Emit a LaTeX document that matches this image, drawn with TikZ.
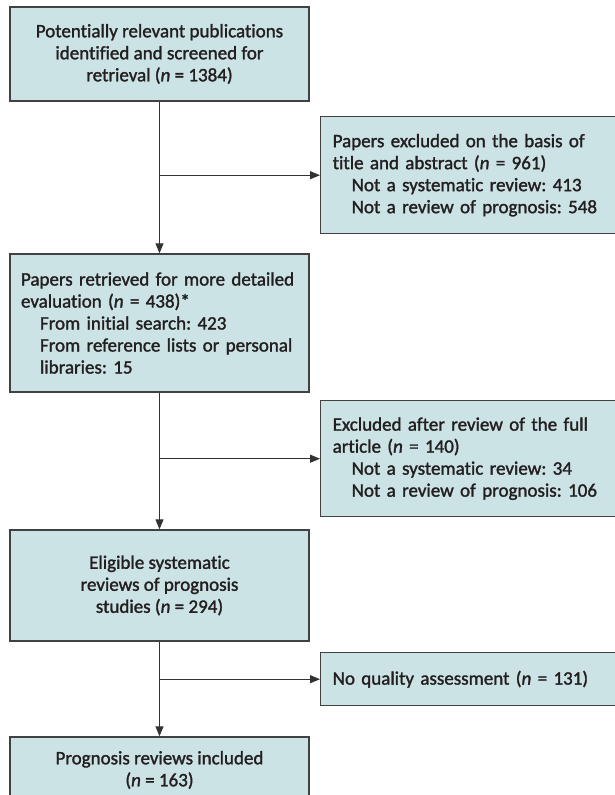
\documentclass[tikz,border=0pt]{standalone}
\usepackage{fontspec}
\setmainfont{Carlito}[Ligatures={NoCommon}, FakeBold=1.5]
\usetikzlibrary{arrows.meta}
\definecolor{boxfill}{RGB}{204,227,230}
\definecolor{boxline}{RGB}{65,65,65}
\definecolor{txtc}{RGB}{35,31,32}
\definecolor{linec}{RGB}{50,50,50}
\tikzset{
  fbox/.style={draw=boxline, fill=boxfill, line width=1.4pt, text=txtc,
    font=\fontsize{19}{22}\selectfont\frenchspacing, inner sep=0pt},
  cbox/.style={fbox, minimum width=299pt, align=center},
  lbox/.style={fbox, minimum width=299pt, text width=277pt, inner xsep=11pt, align=left},
  rbox/.style={fbox, anchor=north west, minimum width=310pt, text width=286pt, inner xsep=12pt, align=left},
  conn/.style={draw=linec, line width=1.2pt, -{Triangle[length=10pt,width=8pt]}}
}
\newcommand{\ind}{\hspace*{19pt}}
\begin{document}
\begin{tikzpicture}[x=1pt,y=-1pt]
\useasboundingbox (0,0) rectangle (615,795);
\node[cbox, minimum height=94pt] (b1) at (159.5,54)
  {Potentially relevant publications\\identified and screened for\\retrieval (\textit{n} = 1384)};
\node[rbox, minimum height=117pt] (b2) at (320,116)
  {Papers excluded on the basis of\\title and abstract (\textit{n} = 961)\\\ind Not a systematic review: 413\\\ind Not a review of prognosis: 548};
\node[lbox, minimum height=138pt] (b3) at (159.5,323)
  {Papers retrieved for more detailed\\evaluation (\textit{n} = 438)*\\\ind From initial search: 423\\\ind From reference lists or personal\\\ind libraries: 15};
\node[rbox, minimum height=116pt] (b4) at (320,400)
  {Excluded after review of the full\\article (\textit{n} = 140)\\\ind Not a systematic review: 34\\\ind Not a review of prognosis: 106};
\node[cbox, minimum height=111pt] (b5) at (159.5,585.5)
  {Eligible systematic\\reviews of prognosis\\studies (\textit{n} = 294)};
\node[rbox, minimum height=53pt] (b6) at (320,652)
  {No quality assessment (\textit{n} = 131)};
\node[cbox, minimum height=66pt] (b7) at (159.5,770)
  {Prognosis reviews included\\(\textit{n} = 163)};
\draw[conn] (b1) -- (b3);
\draw[conn] (b1.south |- b2.west) -- (b2.west);
\draw[conn] (b3) -- (b5);
\draw[conn] (b3.south |- b4.west) -- (b4.west);
\draw[conn] (b5) -- (b7);
\draw[conn] (b5.south |- b6.west) -- (b6.west);
\end{tikzpicture}
\end{document}
